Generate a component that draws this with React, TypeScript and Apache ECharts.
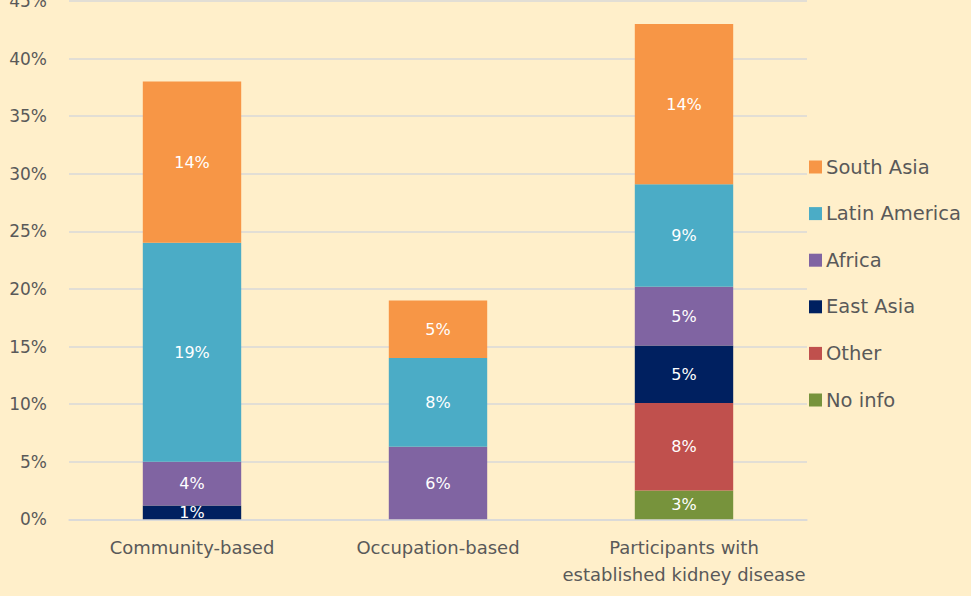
import React, { useEffect, useRef } from "react";
import * as echarts from "echarts";

const categories = [
  "Community-based",
  "Occupation-based",
  "Participants with\nestablished kidney disease",
];
const yTicks = { min: 0, max: 45, interval: 5 };
const noInfo = [null, null, 2.5];
const other = [null, null, 7.6];
const eastAsia = [1.2, null, 5.0];
const africa = [3.8, 6.3, 5.1];
const latinAmerica = [19.0, 7.7, 8.9];
const southAsia = [14.0, 5.0, 13.9];

const seriesDefs = [
  { name: "No info", data: noInfo, color: "#77933C" },
  { name: "Other", data: other, color: "#C0504D" },
  { name: "East Asia", data: eastAsia, color: "#002060" },
  { name: "Africa", data: africa, color: "#8064A2" },
  { name: "Latin America", data: latinAmerica, color: "#4BACC6" },
  { name: "South Asia", data: southAsia, color: "#F79646" },
];
const legendOrder = ["South Asia", "Latin America", "Africa", "East Asia", "Other", "No info"];

const FONT = "DejaVu Sans";

export default function App() {
  const ref = useRef<HTMLDivElement>(null);
  useEffect(() => {
    document.body.style.margin = "0";
    const chart = echarts.init(ref.current!, null, { renderer: "svg" });
    chart.setOption({
      animation: false,
      backgroundColor: "#FFEFCA",
      grid: { left: 69, right: 164, top: 1, bottom: 76.7, outerBoundsMode: "none", containLabel: false },
      legend: {
        orient: "vertical",
        left: 804,
        top: 152,
        itemWidth: 13,
        itemHeight: 13,
        itemGap: 26.6,
        icon: "rect",
        data: legendOrder,
        textStyle: { fontFamily: FONT, fontSize: 19.5, lineHeight: 20, color: "#595959", padding: [0, 0, 0, -1] },
      },
      xAxis: {
        type: "category",
        data: categories,
        axisTick: { show: false },
        axisLine: { lineStyle: { color: "#D9D9D9", width: 1.5 } },
        axisLabel: {
          fontFamily: FONT,
          fontSize: 18,
          color: "#595959",
          margin: 15,
          lineHeight: 27,
          interval: 0,
        },
      },
      yAxis: {
        type: "value",
        min: yTicks.min,
        max: yTicks.max,
        interval: yTicks.interval,
        axisLine: { show: false },
        axisTick: { show: false },
        splitLine: { lineStyle: { color: "#D9D9D9", width: 1.5 } },
        axisLabel: {
          fontFamily: FONT,
          fontSize: 17,
          color: "#595959",
          margin: 22,
          formatter: (v: number) => `${v}%`,
        },
      },
      series: seriesDefs.map((s) => ({
        name: s.name,
        type: "bar",
        stack: "total",
        barWidth: "40%",
        data: s.data,
        itemStyle: { color: s.color },
        label: {
          show: true,
          position: "inside",
          color: "#FFFFFF",
          fontFamily: FONT,
          fontSize: 16,
          formatter: (p: any) => (p.value == null ? "" : `${Math.round(p.value)}%`),
        },
      })),
    });
    return () => chart.dispose();
  }, []);
  return <div ref={ref} style={{ width: 971, height: 596 }} />;
}
